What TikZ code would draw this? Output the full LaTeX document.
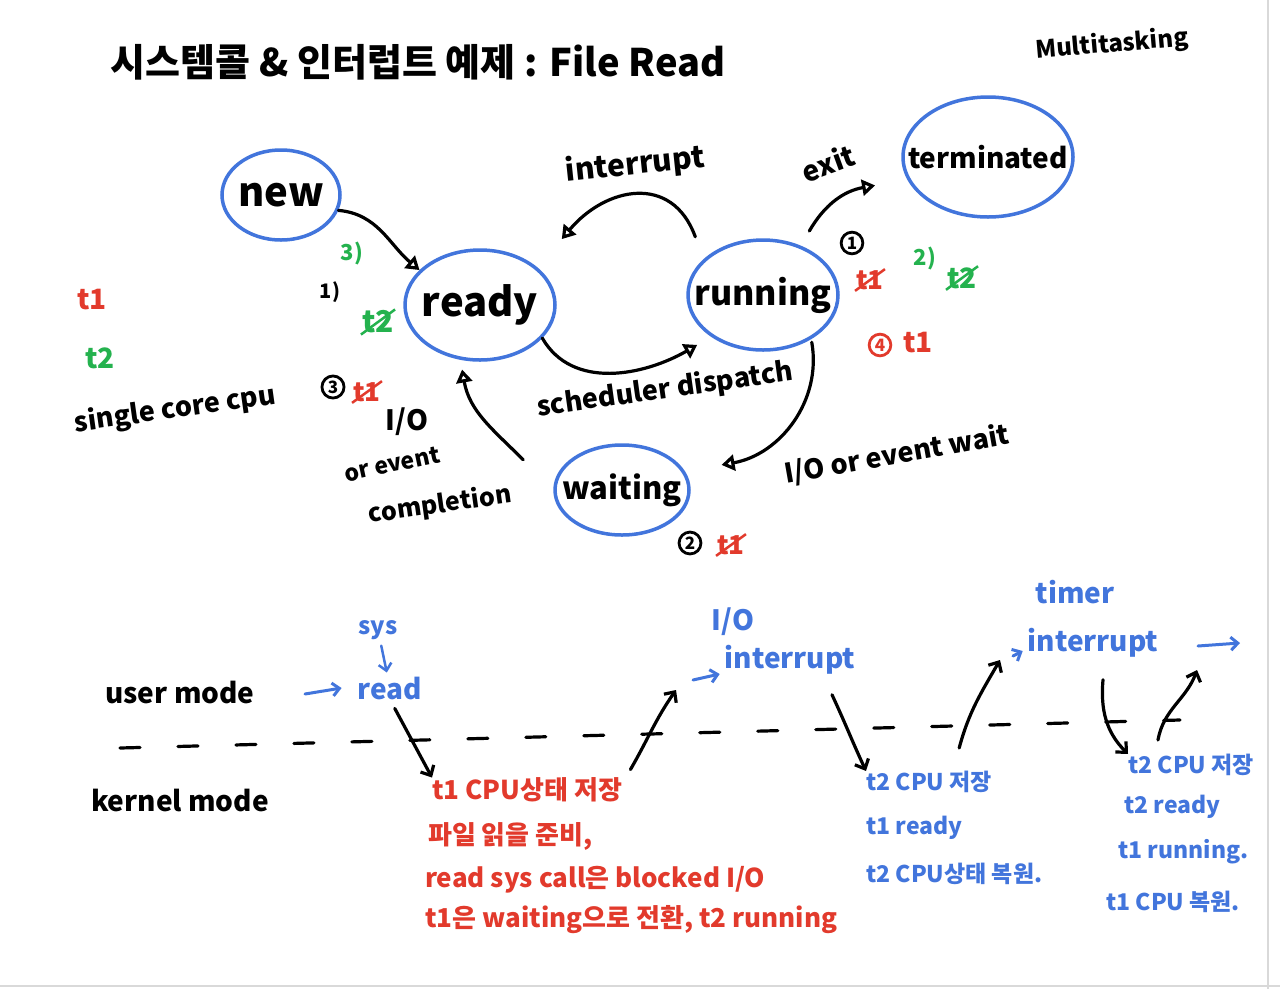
\documentclass[tikz,border=0pt]{standalone}
\usepackage{fontspec}
\setmainfont{Noto Sans CJK KR}
\usetikzlibrary{shapes.geometric,shapes.misc,arrows.meta}
\definecolor{pblue}{RGB}{66,117,220}
\definecolor{pred}{RGB}{226,58,44}
\definecolor{pgreen}{RGB}{36,178,78}
\newcommand{\fsz}[1]{\fontsize{#1}{#1}\selectfont}
\begin{document}
\begin{tikzpicture}[x=1pt,y=-1pt,
  state/.style={ellipse, draw=pblue, line width=3.5pt, inner sep=0pt},
  lbl/.style={inner sep=0pt, font=\bfseries\fsz{#1}},
  lbl/.default=26,
  hand/.style={line width=3.2pt, line cap=round, line join=round},
  sarrow/.style={hand, -{Triangle[open, length=13pt, width=16pt]}},
  karrow/.style={hand, -{Straight Barb[length=8pt, width=15pt]}},
  barrow/.style={hand, pblue, line width=3pt, -{Straight Barb[length=7pt, width=13pt]}},
  xout/.style={strike out, draw, line width=2.5pt, inner sep=0pt},
  cnum/.style={circle, draw, line width=2.8pt, inner sep=2pt, font=\bfseries\fsz{17}}
]
\useasboundingbox (0,0) rectangle (1280,989);
\fill[white] (0,0) rectangle (1280,989);
\draw[gray!30, line width=1.5pt] (1268,0) -- (1268,989);
\draw[gray!30, line width=1.5pt] (0,986) -- (1280,986);

% title
\node[lbl=38] (title) at (418,62) {시스템콜 \& 인터럽트 예제 : File Read};
\node[lbl=24, rotate=5] (multi) at (1112,45) {Multitasking};

% states
\node[state, minimum width=118, minimum height=90] (new) at (281,195) {};
\node[lbl=40] (newt) at (new) {new};
\node[state, minimum width=150, minimum height=110] (ready) at (480,305) {};
\node[lbl=40] (readyt) at (ready) {ready};
\node[state, minimum width=150, minimum height=110] (running) at (763,295) {};
\node[lbl=34] (runningt) at (running) {running};
\node[state, minimum width=170, minimum height=120] (term) at (988,157) {};
\node[lbl=28] (termt) at (term) {terminated};
\node[state, minimum width=134, minimum height=90] (waiting) at (622,490) {};
\node[lbl=31] (waitingt) at (waiting) {waiting};

% state connectors
\draw[sarrow] (new.-15) to[out=-5,in=140] (ready.150);
\draw[sarrow] ([shift={(-18,-15)}]running.139) to[out=110,in=50,looseness=1.3] ([shift={(30,-24)}]ready.39);
\draw[sarrow] (ready.-28) to[out=-60,in=-150] ([shift={(-14,8)}]running.-141);
\draw[sarrow] ([shift={(10,-14)}]running.54) to[out=60,in=190] ([shift={(-31,8)}]term.-166);
\draw[sarrow] ([shift={(-4,6)}]running.-38) to[out=-80,in=10] ([shift={(35,-9)}]waiting.14);
\draw[sarrow] ([shift={(-36,-11)}]waiting.163) to[out=135,in=-80] ([shift={(-2,9)}]ready.-106);

% state labels
\node[lbl=30, rotate=6] (lint) at (635,165) {interrupt};
\node[lbl=28, rotate=20] (lexit) at (828,163) {exit};
\node[lbl=27, rotate=8] (lsched) at (665,390) {scheduler dispatch};
\node[lbl=27, rotate=10] (lwait) at (897,455) {I/O or event wait};
\node[lbl=28] (lio) at (407,422) {I/O};
\node[lbl=23, rotate=12] (lor) at (392,464) {or event};
\node[lbl=25, rotate=8] (lcomp) at (440,505) {completion};

% legend
\node[lbl=28, text=pred] (lt1) at (92,300) {t1};
\node[lbl=28, text=pgreen] (lt2) at (100,358) {t2};
\node[lbl=27, rotate=8] (lcpu) at (175,410) {single core cpu};

% annotations
\node[lbl=22, text=pgreen] (a3) at (352,253) {3)};
\node[lbl=20] (a1) at (330,292) {1)};
\node[lbl=30, text=pgreen, xout, draw=pgreen] (x1) at (378,322) {t2};
\node[cnum] (c3n) at (333,387) {3};
\node[lbl=26, text=pred, xout, draw=pred] (x2) at (367,392) {t1};
\node[cnum] (c1n) at (852,243) {1};
\node[lbl=26, text=pred, xout, draw=pred] (x3) at (870,280) {t1};
\node[lbl=22, text=pgreen] (a2) at (925,258) {2)};
\node[lbl=28, text=pgreen, xout, draw=pgreen] (x4) at (962,278) {t2};
\node[cnum, draw=pred, text=pred] (c4n) at (880,345) {4};
\node[lbl=28, text=pred] (t1b) at (918,343) {t1};
\node[cnum] (c2n) at (690,543) {2};
\node[lbl=26, text=pred, xout, draw=pred] (x5) at (731,545) {t1};

% timeline
\node[lbl=28] (umode) at (180,692) {user mode};
\node[lbl=28] (kmode) at (180,800) {kernel mode};
\coordinate (dl) at (120,748);
\coordinate (dr) at (1180,720);
\draw[hand, dash pattern=on 20pt off 38pt] (dl) -- (dr);

\node[lbl=24, text=pblue] (sys) at (378,630) {sys};
\node[lbl=28, text=pblue] (read) at (390,688) {read};
\node[lbl=28, text=pblue] (io) at (733,622) {I/O};
\node[lbl=28, text=pblue] (int1) at (790,660) {interrupt};
\node[lbl=28, text=pblue] (timer) at (1075,592) {timer};
\node[lbl=28, text=pblue] (int2) at (1093,643) {interrupt};

\node[lbl=26, text=pred, anchor=west] (r1) at (432,790) {t1 CPU상태 저장};
\node[lbl=26, text=pred, anchor=west] (r2) at (428,836) {파일 읽을 준비,};
\node[lbl=26, text=pred, anchor=west] (r3) at (425,880) {read sys call은 blocked I/O};
\node[lbl=26, text=pred, anchor=west] (r4) at (425,920) {t1은 waiting으로 전환, t2 running};

\node[lbl=23, text=pblue, anchor=west] (b1) at (866,782) {t2 CPU 저장};
\node[lbl=23, text=pblue, anchor=west] (b2) at (866,828) {t1 ready};
\node[lbl=23, text=pblue, anchor=west] (b3) at (866,874) {t2 CPU상태 복원.};

\node[lbl=23, text=pblue, anchor=west] (c1) at (1128,765) {t2 CPU 저장};
\node[lbl=23, text=pblue, anchor=west] (c2) at (1124,807) {t2 ready};
\node[lbl=23, text=pblue, anchor=west] (c3) at (1118,852) {t1 running.};
\node[lbl=23, text=pblue, anchor=west] (c4) at (1106,902) {t1 CPU 복원.};

% timeline connectors
\coordinate (ua) at (305,694);
\draw[barrow] (ua) -- ([shift={(-16,0)}]read.west);
\draw[barrow, line width=2.5pt, shorten <=6pt, shorten >=4pt] (sys) -- (read);
\draw[karrow, shorten <=10pt] (read.south) -- (r1.north west);
\coordinate (k1) at (676,690);
\draw[karrow] ([shift={(8,-8)}]r1.north east) to[out=60,in=-125] (k1);
\coordinate (k1b) at (693,680);
\draw[barrow] (k1b) -- ([shift={(-5,14)}]int1.west);
\draw[karrow] ([shift={(42,20)}]int1.south) to[out=-65,in=115] (b1.north west);
\coordinate (k2) at (1000,660);
\draw[karrow] ([shift={(-33,-23)}]b1.north east) to[out=75,in=-120] (k2);
\coordinate (k2b) at (1013,656);
\draw[barrow] (k2b) -- ([shift={(-5,8)}]int2.west);
\draw[karrow] ([shift={(10,22)}]int2.south) to[out=-95,in=135] (c1.north west);
\coordinate (k3) at (1158,740);
\coordinate (k4) at (1197,670);
\draw[karrow] (k3) to[out=80,in=-110] (k4);
\coordinate (k5) at (1198,646);
\coordinate (k6) at (1240,643);
\draw[barrow] (k5) -- (k6);
\end{tikzpicture}
\end{document}
